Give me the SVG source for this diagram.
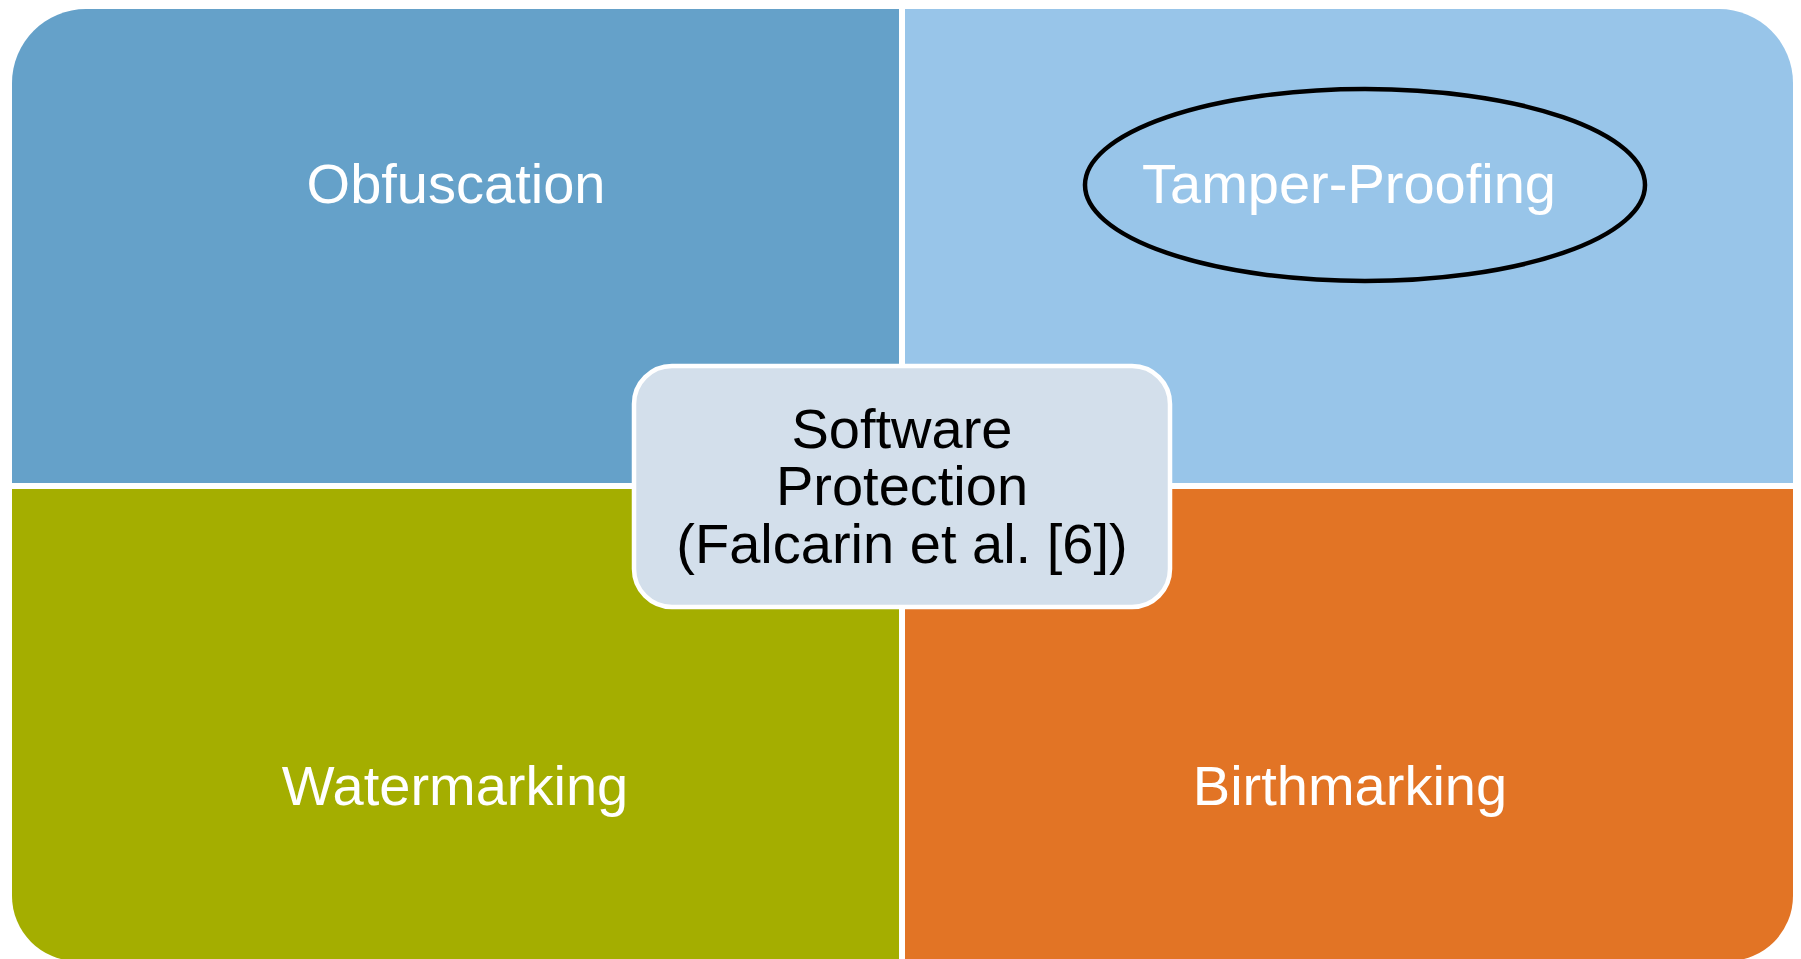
<svg xmlns="http://www.w3.org/2000/svg" width="1801" height="959" viewBox="0 0 1801 959">
  <style>
    .quad-label { font-family: "Liberation Sans", Arial, sans-serif; font-size: 56px; fill: #ffffff; text-anchor: middle; }
    .center-label { font-family: "Liberation Sans", Arial, sans-serif; font-size: 56px; fill: #000000; text-anchor: middle; }
  </style>
  <rect x="0" y="0" width="1801" height="959" fill="#ffffff"/>

  <!-- Four quadrants, each rounded on its outer corner -->
  <g id="obfuscation">
    <path d="M12,483 L12,83 A74,74 0 0 1 86,9 L899,9 L899,483 Z" fill="#65A1C9"/>
    <text class="quad-label" x="456" y="203">Obfuscation</text>
  </g>
  <g id="tamper-proofing">
    <path d="M905,9 L1719,9 A74,74 0 0 1 1793,83 L1793,483 L905,483 Z" fill="#98C5E9"/>
    <ellipse cx="1365" cy="185" rx="280" ry="96" fill="none" stroke="#000000" stroke-width="4.5"/>
    <text class="quad-label" x="1349" y="203">Tamper-Proofing</text>
  </g>
  <g id="watermarking">
    <path d="M12,489 L899,489 L899,961 L77,961 A65,65 0 0 1 12,896 Z" fill="#A4AE00"/>
    <text class="quad-label" x="455" y="805">Watermarking</text>
  </g>
  <g id="birthmarking">
    <path d="M905,489 L1793,489 L1793,896 A65,65 0 0 1 1728,961 L905,961 Z" fill="#E27425"/>
    <text class="quad-label" x="1350" y="805">Birthmarking</text>
  </g>

  <!-- Central topic box -->
  <g id="software-protection">
    <rect x="634" y="366" width="536" height="241" rx="38" ry="38" fill="#D3DFEB" stroke="#ffffff" stroke-width="4.5"/>
    <text class="center-label" x="902" y="448">Software</text>
    <text class="center-label" x="902" y="505">Protection</text>
    <text class="center-label" x="902" y="563">(Falcarin et al. [6])</text>
  </g>

  <g id="connectors"/>
</svg>
